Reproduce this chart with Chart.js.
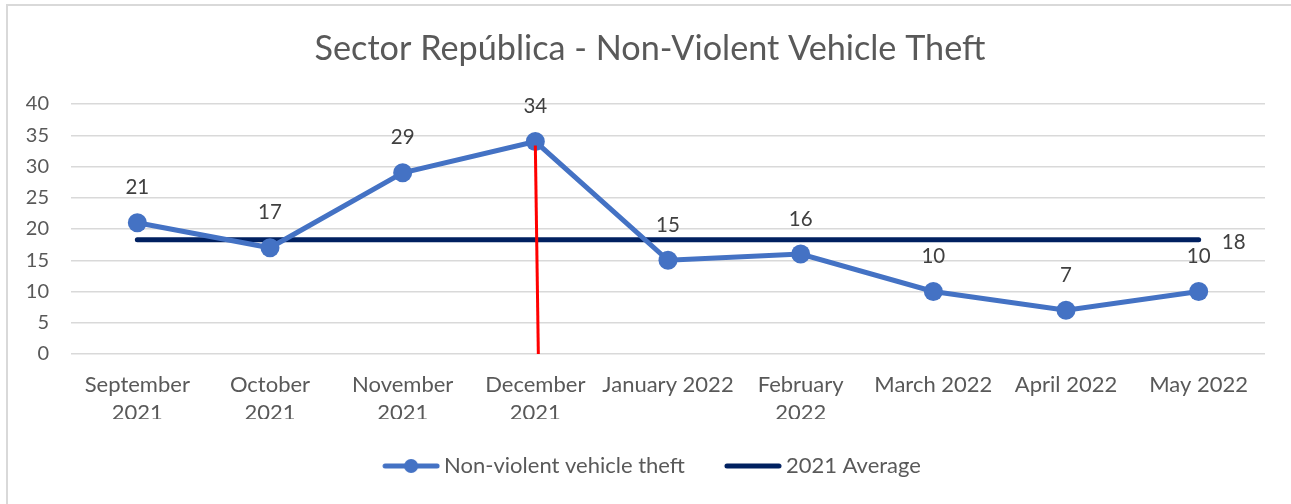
<!DOCTYPE html>
<html>
<head>
<meta charset="utf-8">
<script src="https://cdn.jsdelivr.net/npm/chart.js@4/dist/chart.umd.min.js"></script>
<style>
  html, body { margin: 0; padding: 0; background: #ffffff; }
  #wrap { position: relative; width: 1291px; height: 504px; overflow: hidden; }
  #frame { position: absolute; left: 6px; top: 4px; width: 1400px; height: 600px; border: 2px solid #d9d9d9; box-sizing: border-box; pointer-events: none; }
  canvas { position: absolute; left: 0; top: 0; }
</style>
</head>
<body>
<div id="wrap">
  <div id="frame"></div>
  <canvas id="c" width="1291" height="504"></canvas>
</div>
<script>
// ---- data ----
const categories = [
  ['September', '2021'], ['October', '2021'], ['November', '2021'], ['December', '2021'],
  'January 2022', ['February', '2022'], 'March 2022', 'April 2022', 'May 2022'
];
const theftValues = [21, 17, 29, 34, 15, 16, 10, 7, 10];
const averageValues = [18.3, 18.3, 18.3, 18.3, 18.3, 18.3, 18.3, 18.3, 18.3];
const yTicks = [0, 5, 10, 15, 20, 25, 30, 35, 40];
const seriesNames = ['Non-violent vehicle theft', '2021 Average'];
const titleText = 'Sector República - Non-Violent Vehicle Theft';
const redMarkerIndex = 3;          // December 2021
const redMarkerRange = [34, 0];    // from value to value

const FONT = 'Lato, "Open Sans", sans-serif';
const BLUE = '#4472C4', NAVY = '#002060', TXT = '#595959';

// legend marker image: transparent lead-in on the left, marker at the right
const BOX_W = 54, MK_W = BOX_W + 14, MK_LINE = 58;
function legendMarker(color, withDot) {
  const c = document.createElement('canvas');
  c.width = MK_W; c.height = 20;
  const g = c.getContext('2d');
  const x0 = MK_W - MK_LINE;
  g.strokeStyle = color; g.lineWidth = 5; g.lineCap = 'round';
  g.beginPath(); g.moveTo(x0 + 3, 10); g.lineTo(MK_W - 3, 10); g.stroke();
  if (withDot) { g.fillStyle = color; g.beginPath(); g.arc(x0 + MK_LINE / 2, 10, 7, 0, Math.PI * 2); g.fill(); }
  return c;
}
const markers = [legendMarker(BLUE, true), legendMarker(NAVY, false)];

const labelsPlugin = {
  id: 'labelsPlugin',
  afterDatasetsDraw(chart) {
    const ctx = chart.ctx;
    const x = chart.scales.x, y = chart.scales.y;
    // red vertical marker
    ctx.save();
    ctx.strokeStyle = '#FF0000'; ctx.lineWidth = 3;
    ctx.beginPath();
    const px = x.getPixelForValue(redMarkerIndex);
    ctx.moveTo(px, y.getPixelForValue(redMarkerRange[0]) + 4);
    ctx.lineTo(px + 3, y.getPixelForValue(redMarkerRange[1]));
    ctx.stroke();
    ctx.restore();
    // data labels
    ctx.save();
    ctx.font = '20.5px ' + FONT;
    ctx.fillStyle = '#404040';
    ctx.textAlign = 'center'; ctx.textBaseline = 'middle';
    const meta = chart.getDatasetMeta(0);
    meta.data.forEach((pt, i) => {
      ctx.fillText(String(theftValues[i]), pt.x, pt.y - 35);
    });
    const meta2 = chart.getDatasetMeta(1);
    const last = meta2.data[meta2.data.length - 1];
    ctx.fillText(String(Math.round(averageValues[averageValues.length - 1])), last.x + 35, last.y + 3);
    ctx.restore();
  }
};

new Chart(document.getElementById('c'), {
  type: 'line',
  data: {
    labels: categories,
    datasets: [
      {
        label: seriesNames[0], data: theftValues,
        borderColor: BLUE, backgroundColor: BLUE, borderWidth: 5,
        pointRadius: 9.5, pointHoverRadius: 9.5, pointBackgroundColor: BLUE, pointBorderWidth: 0,
        pointStyle: 'circle', tension: 0, order: 1
      },
      {
        label: seriesNames[1], data: averageValues,
        borderColor: NAVY, backgroundColor: NAVY, borderWidth: 5, borderCapStyle: 'round',
        pointRadius: 0, pointHoverRadius: 0, tension: 0, order: 2
      }
    ]
  },
  options: {
    responsive: false,
    animation: false,
    events: [],
    layout: { padding: { left: 9, right: 0, top: 0, bottom: 17 } },
    plugins: {
      title: {
        display: true, text: titleText, color: TXT,
        font: { family: FONT, size: 34.2, weight: '400', lineHeight: 1.2 },
        padding: { top: 28, bottom: 35 }
      },
      legend: {
        position: 'bottom',
        labels: {
          color: TXT, font: { family: FONT, size: 22 },
          usePointStyle: true, pointStyleWidth: BOX_W, boxHeight: 20, padding: 36,
          generateLabels: (chart) => chart.data.datasets.map((ds, i) => ({
            text: ds.label, pointStyle: markers[i], fillStyle: ds.borderColor,
            strokeStyle: ds.borderColor, lineWidth: 0, hidden: false, datasetIndex: i, fontColor: TXT
          }))
        }
      },
      tooltip: { enabled: false }
    },
    scales: {
      x: {
        offset: true,
        afterFit: (s) => { s.height = 65; },
        grid: { display: false, drawTicks: false },
        border: { display: false },
        ticks: { color: TXT, font: { family: FONT, size: 22, lineHeight: 1.27 }, padding: 17, maxRotation: 0, autoSkip: false }
      },
      y: {
        min: 0, max: 40,
        afterBuildTicks: (s) => { s.ticks = yTicks.map(v => ({ value: v })); },
        afterFit: (s) => { s.width = 62; },
        grid: { color: '#d9d9d9', lineWidth: 1.5, drawTicks: false },
        border: { display: false },
        ticks: { color: TXT, font: { family: FONT, size: 20 }, padding: 22 }
      },
      yRight: {
        position: 'right', display: true,
        afterFit: (s) => { s.width = 26; },
        grid: { display: false, drawTicks: false },
        border: { display: false },
        ticks: { display: false }
      }
    }
  },
  plugins: [labelsPlugin]
});
</script>
</body>
</html>
